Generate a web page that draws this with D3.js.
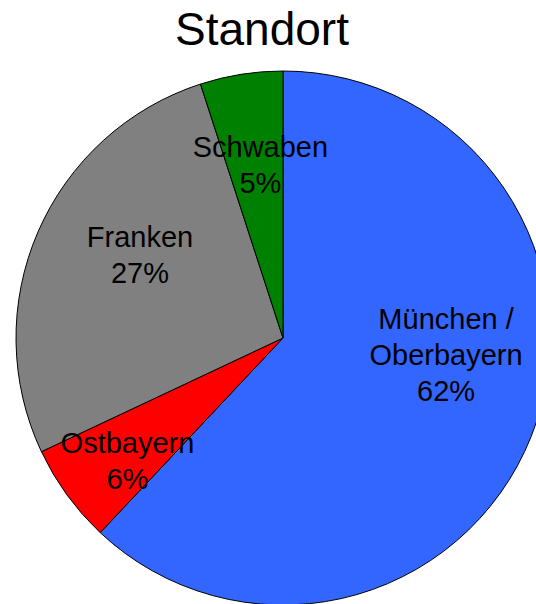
<!DOCTYPE html>
<html>
<head>
<meta charset="utf-8">
<script src="https://cdn.jsdelivr.net/npm/d3@7"></script>
<style>
  body { margin: 0; background: #fff; }
  svg { display: block; }
</style>
</head>
<body>
<script>
// Daten
var categories = ["München / Oberbayern", "Ostbayern", "Franken", "Schwaben"];
var labelLines = [["München /", "Oberbayern"], ["Ostbayern"], ["Franken"], ["Schwaben"]];
var values = [62, 6, 27, 5];
var colors = ["#3366FF", "#FF0000", "#808080", "#008000"];

// Feinjustierung der Beschriftung relativ zum Schwerpunkt
var labelNudge = [[5, -46], [-18, 23], [13, -16], [4, -5]];

var w = 536, h = 604;
var cx = 283, cy = 338, r = 267;
var lh = 36; // Zeilenabstand

var svg = d3.select("body")
            .append("svg")
            .attr("width", w)
            .attr("height", h);

svg.append("text")
   .attr("x", 262)
   .attr("y", 45)
   .attr("text-anchor", "middle")
   .style("font-family", "'Liberation Sans', Arial, sans-serif")
   .style("font-size", "46px")
   .text("Standort");

var pie = d3.pie().sort(null).value(function(d){ return d; });
var arcs = pie(values);

var arc = d3.arc().innerRadius(0).outerRadius(r);
var labelArc = d3.arc().innerRadius(170).outerRadius(170);

var g = svg.append("g").attr("transform", "translate(" + cx + "," + cy + ")");

g.selectAll("path")
 .data(arcs)
 .enter()
 .append("path")
 .attr("d", arc)
 .attr("fill", function(d, i){ return colors[i]; })
 .attr("stroke", "#000")
 .attr("stroke-width", 1);

var pct = d3.format(".0%");
var total = d3.sum(values);

var labels = g.selectAll("text.lbl")
  .data(arcs)
  .enter()
  .append("text")
  .attr("class", "lbl")
  .attr("text-anchor", "middle")
  .style("font-family", "'Liberation Sans', Arial, sans-serif")
  .style("font-size", "29px")
  .attr("fill", "#000");

labels.each(function(d, i){
  var c = labelArc.centroid(d);
  var x = c[0] + labelNudge[i][0];
  var y = c[1] + labelNudge[i][1];
  var lines = labelLines[i].concat([pct(d.value / total)]);
  var y0 = y - (lines.length - 1) * lh / 2 + 10;
  var t = d3.select(this);
  lines.forEach(function(s, k){
    t.append("tspan")
     .attr("x", x)
     .attr("y", y0 + k * lh)
     .text(s);
  });
});
</script>
</body>
</html>
